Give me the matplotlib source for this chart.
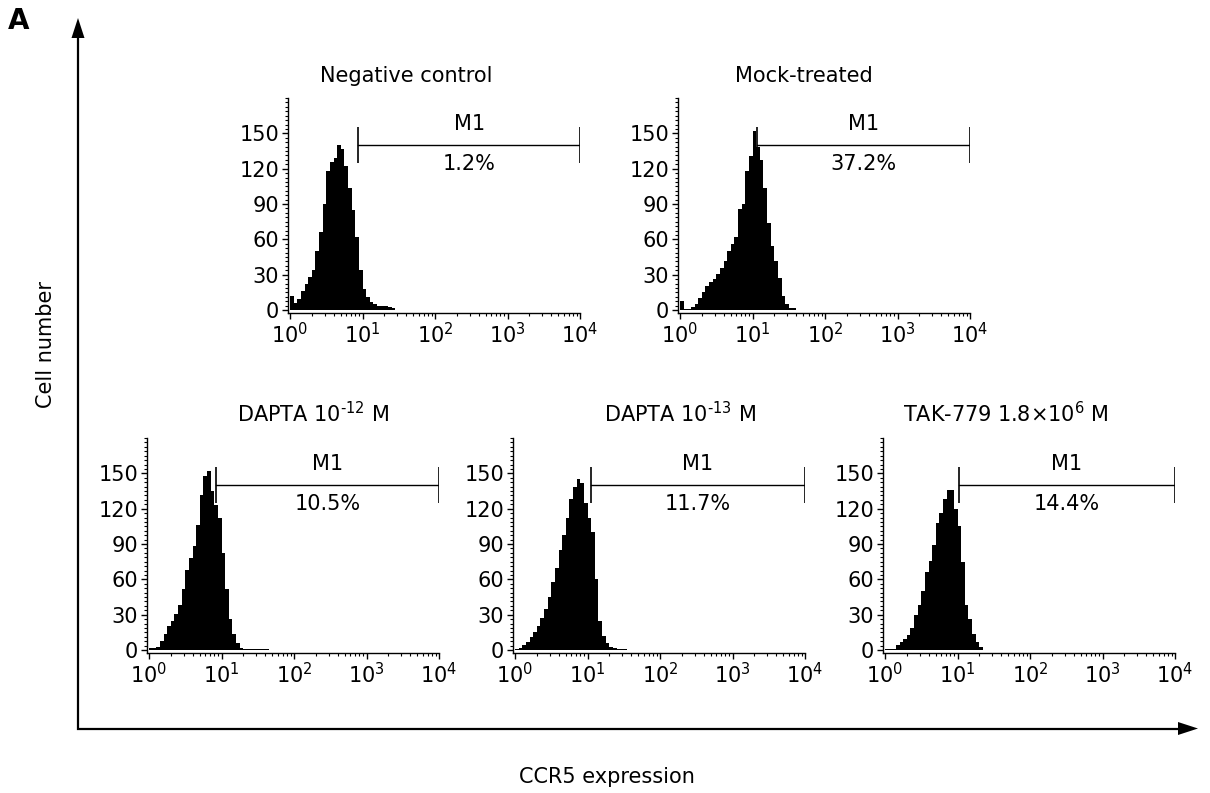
import numpy as np
import matplotlib
matplotlib.use("Agg")
import matplotlib.pyplot as plt
from matplotlib.ticker import FixedLocator, LogLocator, NullFormatter, AutoMinorLocator

plt.rcParams['font.family'] = ['DejaVu Sans']
plt.rcParams['mathtext.fontset'] = 'dejavusans'

# histogram counts, one value per 1/20 decade channel starting at 10^0
BINS_PER_DECADE = 20
neg_control = [12, 6, 9, 16, 22, 28, 34, 50, 66, 90, 118, 126, 129, 140, 137,
               122, 104, 85, 62, 34, 18, 11, 7, 5, 3.5, 3.5, 3.5, 3, 1.5]
mock_treated = [8, 1, 1, 3, 5, 10, 15, 20, 24, 26, 31, 36, 42, 50, 56, 62, 86,
                90, 118, 131, 152, 138, 127, 104, 74, 54, 42, 27, 12, 5, 2, 1.5]
dapta_12 = [1.5, 2, 3, 8, 14, 20, 25, 31, 38, 52, 68, 78, 88, 106, 132, 148,
            152, 135, 123, 112, 82, 52, 26, 14, 6, 2, 1, 1, 1, 1, 1, 1, 1]
dapta_13 = [1, 2, 4, 7, 11, 15, 20, 27, 35, 45, 58, 70, 85, 98, 112, 128, 138,
            145, 142, 125, 112, 100, 60, 25, 12, 6, 3, 2, 1, 1, 1]
tak_779 = [0.5, 0.5, 1, 4, 7, 9, 13, 19, 30, 38, 50, 66, 76, 89, 108, 116, 128,
           136, 136, 120, 105, 75, 38, 26, 14, 7, 3]

titles = ['Negative control', 'Mock-treated',
          r'DAPTA 10$^{\text{-12}}$ M',
          r'DAPTA 10$^{\text{-13}}$ M',
          r'TAK-779 1.8$\times$10$^{\text{6}}$ M']
series = [neg_control, mock_treated, dapta_12, dapta_13, tak_779]
gate_start = [8.7, 11.7, 8.4, 11.0, 10.5]
gate_end = [1e4, 1e4, 1e4, 1e4, 1e4]
gate_pct = ['1.2%', '37.2%', '10.5%', '11.7%', '14.4%']
y_ticks = [0, 30, 60, 90, 120, 150]
x_ticks = [1, 10, 100, 1000, 10000]
x_ticklabels = [r'10$^{\text{%d}}$' % i for i in range(5)]

W, H = 1210, 793
fig = plt.figure(figsize=(W / 100, H / 100), dpi=100)

# panel boxes in pixels: left, top, title centre x
boxes = [(288, 98, 406), (678, 98, 804), (147, 438, 313), (513, 438, 680), (883, 438, 1006)]
PW, PH = 292, 215
FS = 15

for k in range(5):
    left, top, tx = boxes[k]
    ax = fig.add_axes([left / W, (H - top - PH) / H, PW / W, PH / H])
    counts = np.array(series[k], dtype=float)
    edges = 10 ** (np.arange(len(counts) + 1) / BINS_PER_DECADE)
    ax.stairs(counts, edges, fill=True, color='black', lw=0)
    ax.set_xscale('log')
    ax.set_xlim(10 ** -0.028, 1e4)
    ax.set_ylim(-2.5, 180)
    for s in ['top', 'right']:
        ax.spines[s].set_visible(False)
    for s in ['left', 'bottom']:
        ax.spines[s].set_linewidth(1.0)
    ax.xaxis.set_major_locator(FixedLocator(x_ticks))
    ax.set_xticklabels(x_ticklabels, fontsize=FS)
    ax.xaxis.set_minor_locator(LogLocator(base=10, subs=np.arange(2, 10)))
    ax.xaxis.set_minor_formatter(NullFormatter())
    ax.yaxis.set_major_locator(FixedLocator(y_ticks))
    ax.set_yticklabels([str(v) for v in y_ticks], fontsize=FS)
    ax.yaxis.set_minor_locator(AutoMinorLocator(8))
    ax.tick_params(which='major', length=4.5, width=1.0, pad=2)
    ax.tick_params(which='minor', length=2.5, width=0.8)
    # title placed in figure pixels so it can sit off the axes centre
    fig.text(tx / W, (H - top + 12) / H, titles[k], fontsize=FS,
             ha='center', va='bottom')

    # M1 gate marker
    g0, g1 = gate_start[k], gate_end[k]
    ax.plot([g0, g1], [140, 140], color='black', lw=1.0)
    ax.vlines([g0, g1], 125, 155, color='black', lw=1.2)
    xm = np.sqrt(g0 * g1)
    ax.text(xm, 158, 'M1', ha='center', va='center', fontsize=FS)
    ax.text(xm, 124, gate_pct[k], ha='center', va='center', fontsize=FS)

# outer axes arrows and labels
ov = fig.add_axes([0, 0, 1, 1], facecolor='none')
ov.set_xlim(0, W)
ov.set_ylim(H, 0)
ov.axis('off')
ov.plot([78, 78, 1180], [36, 728.5, 728.5], color='black', lw=1.6,
        solid_joinstyle='miter', solid_capstyle='butt')
ov.fill([78, 71.5, 84.5], [18, 38, 38], color='black', lw=0)
ov.fill([1198, 1178, 1178], [728.5, 722, 735], color='black', lw=0)
ov.text(8, 21, 'A', fontsize=20, fontweight='bold', ha='left', va='center')
ov.text(46, 345, 'Cell number', fontsize=FS, rotation=90, ha='center', va='center')
ov.text(607, 777, 'CCR5 expression', fontsize=FS, ha='center', va='center')

fig.savefig('out.png', dpi=100)
